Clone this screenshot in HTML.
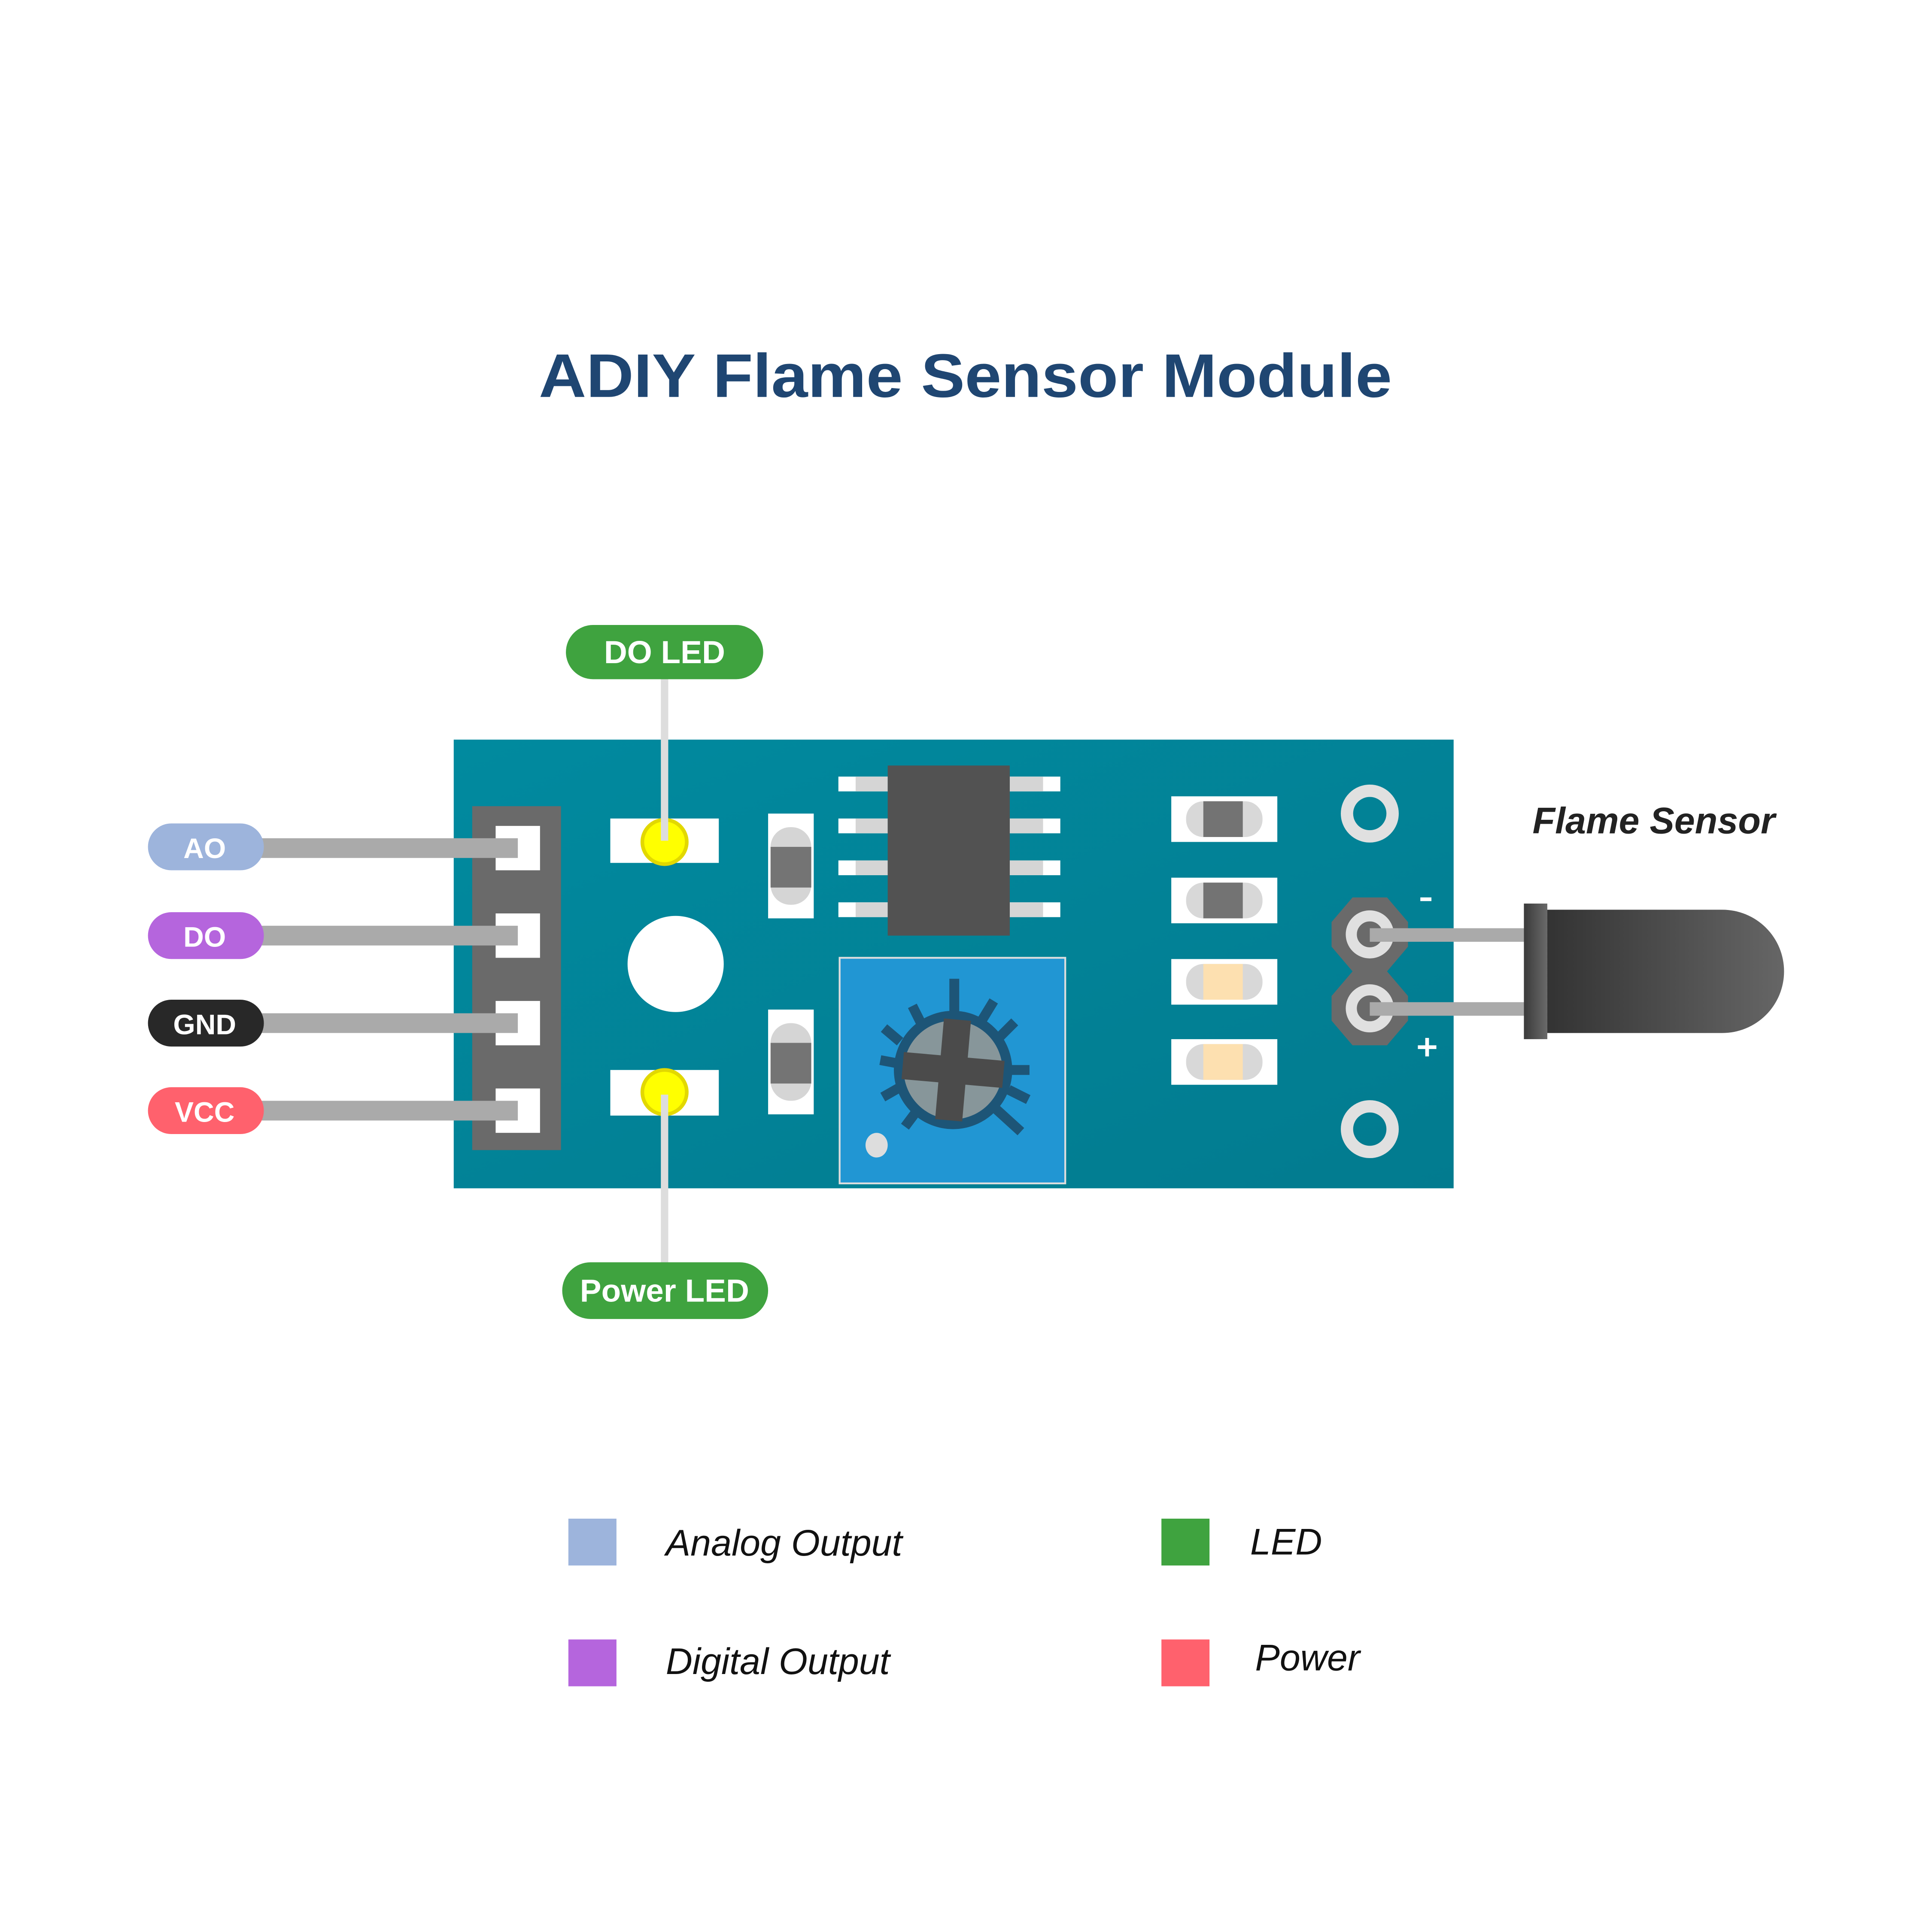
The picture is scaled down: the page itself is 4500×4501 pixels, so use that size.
<!DOCTYPE html>
<html><head><meta charset="utf-8"><style>html,body{margin:0;padding:0;background:#fff}svg{display:block}</style></head>
<body>
<svg width="4500" height="4501" viewBox="0 0 1567 1567.3" xmlns="http://www.w3.org/2000/svg" font-family="Liberation Sans, sans-serif">
<defs>
<linearGradient id="pcb" x1="0" y1="0" x2="1" y2="1"><stop offset="0" stop-color="#018a9f"/><stop offset="1" stop-color="#027b8f"/></linearGradient>
<linearGradient id="body" x1="0" y1="0" x2="1" y2="0"><stop offset="0" stop-color="#333"/><stop offset="1" stop-color="#666"/></linearGradient>
<linearGradient id="fl" x1="0" y1="0" x2="1" y2="0"><stop offset="0" stop-color="#3a3a3a"/><stop offset="1" stop-color="#6a6a6a"/></linearGradient>
</defs>
<rect width="1567" height="1568" fill="#fff"/>
<text x="437" y="322" font-size="50" font-weight="bold" fill="#1f4672" textLength="692" lengthAdjust="spacingAndGlyphs">ADIY Flame Sensor Module</text>

<rect x="368" y="600" width="811" height="364" fill="url(#pcb)"/>
<rect x="383" y="654" width="72" height="279" fill="#6a6a6a"/>
<g fill="#fff">
<rect x="402" y="670" width="36" height="36"/><rect x="402" y="741" width="36" height="36"/>
<rect x="402" y="812" width="36" height="36"/><rect x="402" y="883" width="36" height="36"/>
</g>
<g fill="#aaa">
<rect x="205" y="680" width="215" height="16"/><rect x="205" y="751" width="215" height="16"/>
<rect x="205" y="822" width="215" height="16"/><rect x="205" y="893" width="215" height="16"/>
</g>
<g font-size="23" fill="#fff" text-anchor="middle" font-weight="bold">
<rect x="120" y="668" width="94" height="38" rx="19" fill="#9db4dc"/><text x="166" y="696">AO</text>
<rect x="120" y="740" width="94" height="38" rx="19" fill="#b565dd"/><text x="166" y="768">DO</text>
<rect x="120" y="811" width="94" height="38" rx="19" fill="#282828"/><text x="166" y="839">GND</text>
<rect x="120" y="882" width="94" height="38" rx="19" fill="#ff616d"/><text x="166" y="910">VCC</text>
</g>

<rect x="495" y="664" width="88" height="36" fill="#fff"/>
<rect x="495" y="868" width="88" height="37" fill="#fff"/>
<circle cx="539" cy="683" r="18" fill="#ff0" stroke="#e2d800" stroke-width="3"/>
<circle cx="539" cy="886" r="18" fill="#ff0" stroke="#e2d800" stroke-width="3"/>
<rect x="536" y="548" width="6" height="134" fill="#ddd"/>
<rect x="536" y="888" width="6" height="140" fill="#ddd"/>
<rect x="459" y="507" width="160" height="44" rx="22" fill="#3fa33f"/>
<text x="539" y="538" font-size="26" fill="#fff" text-anchor="middle" font-weight="bold">DO LED</text>
<rect x="456" y="1024" width="167" height="46" rx="23" fill="#3fa33f"/>
<text x="539" y="1056" font-size="26" fill="#fff" text-anchor="middle" font-weight="bold">Power LED</text>

<circle cx="548" cy="782" r="39" fill="#fff"/>

<rect x="623" y="660" width="37" height="85" fill="#fff"/>
<rect x="625" y="671" width="33" height="63" rx="16" fill="#d5d5d5"/>
<rect x="625" y="687" width="33" height="33" fill="#747474"/>
<rect x="623" y="819" width="37" height="85" fill="#fff"/>
<rect x="625" y="830" width="33" height="63" rx="16" fill="#d5d5d5"/>
<rect x="625" y="846" width="33" height="33" fill="#747474"/>

<g>
<rect x="680" y="630" width="40" height="12" fill="#fff"/><rect x="694" y="630" width="26" height="12" fill="#d5d5d5"/>
<rect x="680" y="664" width="40" height="12" fill="#fff"/><rect x="694" y="664" width="26" height="12" fill="#d5d5d5"/>
<rect x="680" y="698" width="40" height="12" fill="#fff"/><rect x="694" y="698" width="26" height="12" fill="#d5d5d5"/>
<rect x="680" y="732" width="40" height="12" fill="#fff"/><rect x="694" y="732" width="26" height="12" fill="#d5d5d5"/>
<rect x="819" y="630" width="41" height="12" fill="#fff"/><rect x="819" y="630" width="27" height="12" fill="#d5d5d5"/>
<rect x="819" y="664" width="41" height="12" fill="#fff"/><rect x="819" y="664" width="27" height="12" fill="#d5d5d5"/>
<rect x="819" y="698" width="41" height="12" fill="#fff"/><rect x="819" y="698" width="27" height="12" fill="#d5d5d5"/>
<rect x="819" y="732" width="41" height="12" fill="#fff"/><rect x="819" y="732" width="27" height="12" fill="#d5d5d5"/>
<rect x="720" y="621" width="99" height="138" fill="#525252"/>
</g>

<rect x="681" y="777" width="183" height="183" fill="#2196d3" stroke="#ddd" stroke-width="1.5"/>
<g stroke="#1d5577" stroke-width="8" stroke-linecap="butt">
<line x1="774" y1="794" x2="774" y2="826"/>
<line x1="820" y1="868" x2="835" y2="868"/>
<line x1="714" y1="860" x2="730" y2="863"/>
<line x1="806" y1="898" x2="828" y2="918"/>
<line x1="746" y1="898" x2="734" y2="914"/>
<line x1="795" y1="830" x2="806" y2="812"/>
<line x1="749" y1="834" x2="740" y2="816"/>
<line x1="730" y1="845" x2="717" y2="834"/>
<line x1="810" y1="842" x2="823" y2="829"/>
<line x1="818" y1="884" x2="834" y2="892"/>
<line x1="730" y1="882" x2="716" y2="890"/>
</g>
<circle cx="773" cy="868" r="44" fill="#87969a" stroke="#1d5577" stroke-width="8"/>
<g fill="#4b4b4b" transform="rotate(5 773 868)">
<rect x="762" y="827" width="22" height="82"/>
<rect x="732" y="857" width="82" height="22"/>
</g>
<ellipse cx="711" cy="929" rx="9" ry="10" fill="#ddd"/>

<g>
<rect x="950" y="646" width="86" height="37" fill="#fff"/><rect x="962" y="650" width="62" height="29" rx="14" fill="#d8d8d8"/><rect x="976" y="650" width="32" height="29" fill="#737373"/>
<rect x="950" y="712" width="86" height="37" fill="#fff"/><rect x="962" y="716" width="62" height="29" rx="14" fill="#d8d8d8"/><rect x="976" y="716" width="32" height="29" fill="#737373"/>
<rect x="950" y="778" width="86" height="37" fill="#fff"/><rect x="962" y="782" width="62" height="29" rx="14" fill="#d8d8d8"/><rect x="976" y="782" width="32" height="29" fill="#fde0b0"/>
<rect x="950" y="843" width="86" height="37" fill="#fff"/><rect x="962" y="847" width="62" height="29" rx="14" fill="#d8d8d8"/><rect x="976" y="847" width="32" height="29" fill="#fde0b0"/>
</g>

<circle cx="1111" cy="660" r="18.5" fill="none" stroke="#e0e0e0" stroke-width="10"/>
<circle cx="1111" cy="916" r="18.5" fill="none" stroke="#e0e0e0" stroke-width="10"/>
<polygon points="1097,728 1125,728 1142,748 1142,768 1125,788 1097,788 1080,768 1080,748" fill="#6a6a6a"/>
<polygon points="1097,788 1125,788 1142,808 1142,828 1125,848 1097,848 1080,828 1080,808" fill="#6a6a6a"/>
<circle cx="1111" cy="758" r="15" fill="none" stroke="#e0e0e0" stroke-width="9"/>
<circle cx="1111" cy="818" r="15" fill="none" stroke="#e0e0e0" stroke-width="9"/>
<rect x="1111" y="753" width="125" height="11" fill="#aaa"/>
<rect x="1111" y="813" width="125" height="11" fill="#aaa"/>
<rect x="1152" y="728" width="9" height="3" fill="#fff"/>
<rect x="1150" y="848" width="15" height="3" fill="#fff"/>
<rect x="1156" y="842" width="3" height="15" fill="#fff"/>

<path d="M1255 738 H1397 A50 50 0 0 1 1397 838 H1255 Z" fill="url(#body)"/>
<rect x="1236" y="733" width="19" height="110" fill="url(#fl)"/>
<text x="1243" y="676" font-size="30" font-weight="bold" font-style="italic" fill="#222">Flame Sensor</text>

<rect x="461" y="1232" width="39" height="38" fill="#9db4dc"/>
<rect x="461" y="1330" width="39" height="38" fill="#b565dd"/>
<rect x="942" y="1232" width="39" height="38" fill="#3fa33f"/>
<rect x="942" y="1330" width="39" height="38" fill="#ff616d"/>
<g font-size="30" font-style="italic" fill="#111">
<text x="540" y="1262">Analog Output</text>
<text x="540" y="1358">Digital Output</text>
<text x="1014" y="1261">LED</text>
<text x="1018" y="1355">Power</text>
</g>
</svg>
</body></html>
